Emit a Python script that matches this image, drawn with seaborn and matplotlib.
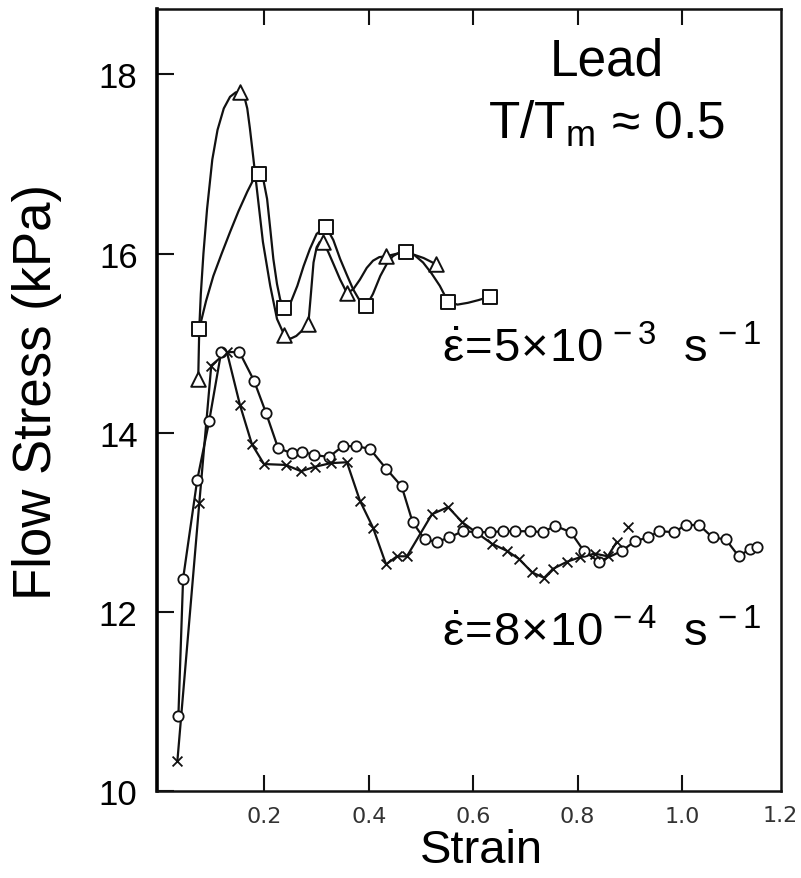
import numpy as np
import pandas as pd
import matplotlib
matplotlib.use("Agg")
import matplotlib.pyplot as plt
import seaborn as sns

sns.set_theme(style="white")
plt.rcParams['font.family'] = ['Liberation Sans', 'DejaVu Sans']
plt.rcParams['mathtext.fontset'] = 'custom'
plt.rcParams['mathtext.rm'] = 'Liberation Sans'
plt.rcParams['mathtext.it'] = 'Liberation Sans'
plt.rcParams['mathtext.bf'] = 'Liberation Sans:bold'

# ---------------- data (strain, flow stress kPa) ----------------
# strain rate 5e-3 : triangles
tri_x = [0.073, 0.153, 0.238, 0.284, 0.312, 0.358, 0.433, 0.529]
tri_y = [14.60, 17.80, 15.09, 15.21, 16.13, 15.56, 15.97, 15.88]
tri_curve_x = [0.073, 0.075, 0.078, 0.083, 0.090, 0.100, 0.110, 0.122, 0.134, 0.145,
               0.153, 0.161, 0.167, 0.172, 0.177, 0.186, 0.197, 0.211, 0.224, 0.238,
               0.250, 0.261, 0.274, 0.284, 0.289, 0.294, 0.300, 0.306, 0.312, 0.322,
               0.331, 0.345, 0.358, 0.370, 0.383, 0.396, 0.408, 0.420, 0.433, 0.455,
               0.480, 0.505, 0.529]
tri_curve_y = [14.60, 15.16, 15.55, 16.00, 16.50, 17.05, 17.38, 17.62, 17.75, 17.80,
               17.80, 17.76, 17.62, 17.40, 17.15, 16.69, 16.13, 15.64, 15.27, 15.09,
               15.05, 15.08, 15.15, 15.21, 15.55, 15.90, 16.07, 16.13, 16.13, 16.02,
               15.90, 15.71, 15.56, 15.60, 15.71, 15.84, 15.92, 15.96, 15.97, 16.00,
               16.00, 15.95, 15.88]

# strain rate 5e-3 : squares
sq_x = [0.075, 0.190, 0.238, 0.318, 0.395, 0.471, 0.552, 0.632]
sq_y = [15.16, 16.89, 15.39, 16.30, 15.41, 16.02, 15.46, 15.52]
sq_curve_x = [0.075, 0.088, 0.102, 0.118, 0.134, 0.150, 0.167, 0.180, 0.190, 0.198,
              0.205, 0.211, 0.217, 0.224, 0.230, 0.238, 0.250, 0.263, 0.275, 0.287,
              0.300, 0.318, 0.332, 0.345, 0.358, 0.370, 0.383, 0.395, 0.408, 0.422,
              0.434, 0.446, 0.458, 0.471, 0.488, 0.504, 0.520, 0.536, 0.552, 0.570,
              0.590, 0.610, 0.632]
sq_curve_y = [15.16, 15.47, 15.75, 16.00, 16.24, 16.47, 16.69, 16.84, 16.89, 16.82,
              16.61, 16.28, 15.94, 15.66, 15.49, 15.39, 15.45, 15.64, 15.86, 16.05,
              16.22, 16.30, 16.15, 15.94, 15.76, 15.60, 15.47, 15.41, 15.55, 15.75,
              15.88, 15.97, 16.01, 16.02, 15.98, 15.90, 15.78, 15.64, 15.46, 15.43,
              15.45, 15.48, 15.52]

# strain rate 8e-4 : open circles
circ_x = [0.035, 0.044, 0.071, 0.094, 0.117, 0.152, 0.180, 0.203, 0.226, 0.252,
          0.272, 0.295, 0.324, 0.350, 0.375, 0.402, 0.433, 0.463, 0.484, 0.507,
          0.530, 0.554, 0.580, 0.607, 0.632, 0.657, 0.681, 0.709, 0.734, 0.757,
          0.787, 0.812, 0.841, 0.885, 0.910, 0.935, 0.956, 0.985, 1.008, 1.033,
          1.059, 1.084, 1.109, 1.130, 1.144]
circ_y = [10.84, 12.37, 13.47, 14.13, 14.90, 14.90, 14.58, 14.22, 13.83, 13.77,
          13.79, 13.75, 13.73, 13.85, 13.85, 13.82, 13.60, 13.40, 13.00, 12.81,
          12.78, 12.83, 12.90, 12.89, 12.89, 12.90, 12.90, 12.90, 12.89, 12.96,
          12.89, 12.68, 12.56, 12.68, 12.79, 12.83, 12.90, 12.89, 12.97, 12.97,
          12.83, 12.81, 12.62, 12.70, 12.72]

# strain rate 8e-4 : crosses
cross_x = [0.033, 0.075, 0.098, 0.128, 0.153, 0.176, 0.199, 0.241, 0.270, 0.297,
           0.327, 0.358, 0.383, 0.408, 0.433, 0.454, 0.473, 0.521, 0.552, 0.579,
           0.636, 0.665, 0.688, 0.713, 0.736, 0.753, 0.780, 0.805, 0.833, 0.858,
           0.875, 0.897]
cross_y = [10.33, 13.21, 14.75, 14.90, 14.31, 13.87, 13.65, 13.64, 13.57, 13.62,
           13.66, 13.67, 13.24, 12.94, 12.53, 12.62, 12.62, 13.09, 13.17, 13.00,
           12.76, 12.68, 12.59, 12.44, 12.38, 12.48, 12.56, 12.61, 12.65, 12.62,
           12.78, 12.95]

x_ticks = [0.2, 0.4, 0.6, 0.8, 1.0]
x_tick_labels = ["0.2", "0.4", "0.6", "0.8", "1.0"]
x_extra_tick = 1.2
x_extra_label = "1.2"
y_ticks = [10, 12, 14, 16, 18]
y_tick_labels = ["10", "12", "14", "16", "18"]

# ---------------- figure ----------------
W, H = 801, 879
fig = plt.figure(figsize=(W / 100, H / 100), dpi=100)
fig.patch.set_facecolor("white")
ax = fig.add_axes([157 / W, (H - 792) / H, (781 - 157) / W, (792 - 10) / H])
ax.set_facecolor("white")

ink = "#111111"
line_kw = dict(color=ink, linewidth=1.6, sort=False, estimator=None, legend=False, ax=ax)

sns.lineplot(x=tri_curve_x, y=tri_curve_y, **line_kw)
sns.lineplot(x=sq_curve_x, y=sq_curve_y, **line_kw)
sns.lineplot(x=circ_x, y=circ_y, **line_kw)
sns.lineplot(x=cross_x[:-1], y=cross_y[:-1], **line_kw)

sns.scatterplot(x=tri_x, y=tri_y, marker="^", s=110, facecolor="white",
                edgecolor=ink, linewidth=1.4, ax=ax, zorder=5, legend=False)
sns.scatterplot(x=sq_x, y=sq_y, marker="s", s=110, facecolor="white",
                edgecolor=ink, linewidth=1.4, ax=ax, zorder=5, legend=False)
sns.scatterplot(x=circ_x, y=circ_y, marker="o", s=55, facecolor="white",
                edgecolor=ink, linewidth=1.3, ax=ax, zorder=5, legend=False)
sns.scatterplot(x=cross_x, y=cross_y, marker="x", s=50, color=ink,
                linewidth=1.3, ax=ax, zorder=5, legend=False)

ax.set_xlim(-0.006, 1.19)
ax.set_ylim(10, 18.73)

ax.set_xticks(x_ticks)
ax.set_xticklabels(x_tick_labels, family="DejaVu Sans", fontsize=16, color="#333333")
ax.set_yticks(y_ticks)
ax.set_yticklabels(y_tick_labels, fontsize=25, color="black")
ax.tick_params(axis="x", direction="in", length=11.5, width=1.5, top=True,
               bottom=True, pad=11, color=ink)
ax.tick_params(axis="y", direction="in", length=12, width=1.5, left=True,
               right=False, pad=14, color=ink)
ax.text(x_extra_tick + 0.023, -0.018, x_extra_label, transform=ax.get_xaxis_transform(),
        ha="right", va="top", family="DejaVu Sans", fontsize=16, color="#333333")

for s in ax.spines.values():
    s.set_visible(True)
    s.set_color(ink)
    s.set_linewidth(1.8)
ax.spines["left"].set_linewidth(2.6)
ax.spines["left"].set_color("black")

ax.set_xlabel("Strain", fontsize=34, color="black")
ax.xaxis.set_label_coords(0.52, -0.047)
ax.set_ylabel("Flow Stress (kPa)", fontsize=38, color="black")
ax.yaxis.set_label_coords(-0.152, 0.512)

ax.text(0.856, 18.0, "Lead", ha="center", va="baseline", fontsize=37, color="black")
ax.text(0.856, 17.29, r"T/T$_{\mathrm{m}}$ ≈ 0.5", ha="center", va="baseline",
        fontsize=37, color="black")
ax.text(0.540, 14.80,
        r"$\dot{\varepsilon}\!=\!5\!\times\!10^{\,-3}\ \ \mathrm{s}^{\,-1}$",
        ha="left", va="baseline", fontsize=34, color="black")
ax.text(0.540, 11.62,
        r"$\dot{\varepsilon}\!=\!8\!\times\!10^{\,-4}\ \ \mathrm{s}^{\,-1}$",
        ha="left", va="baseline", fontsize=34, color="black")

fig.savefig("out.png", dpi=100, facecolor="white")
